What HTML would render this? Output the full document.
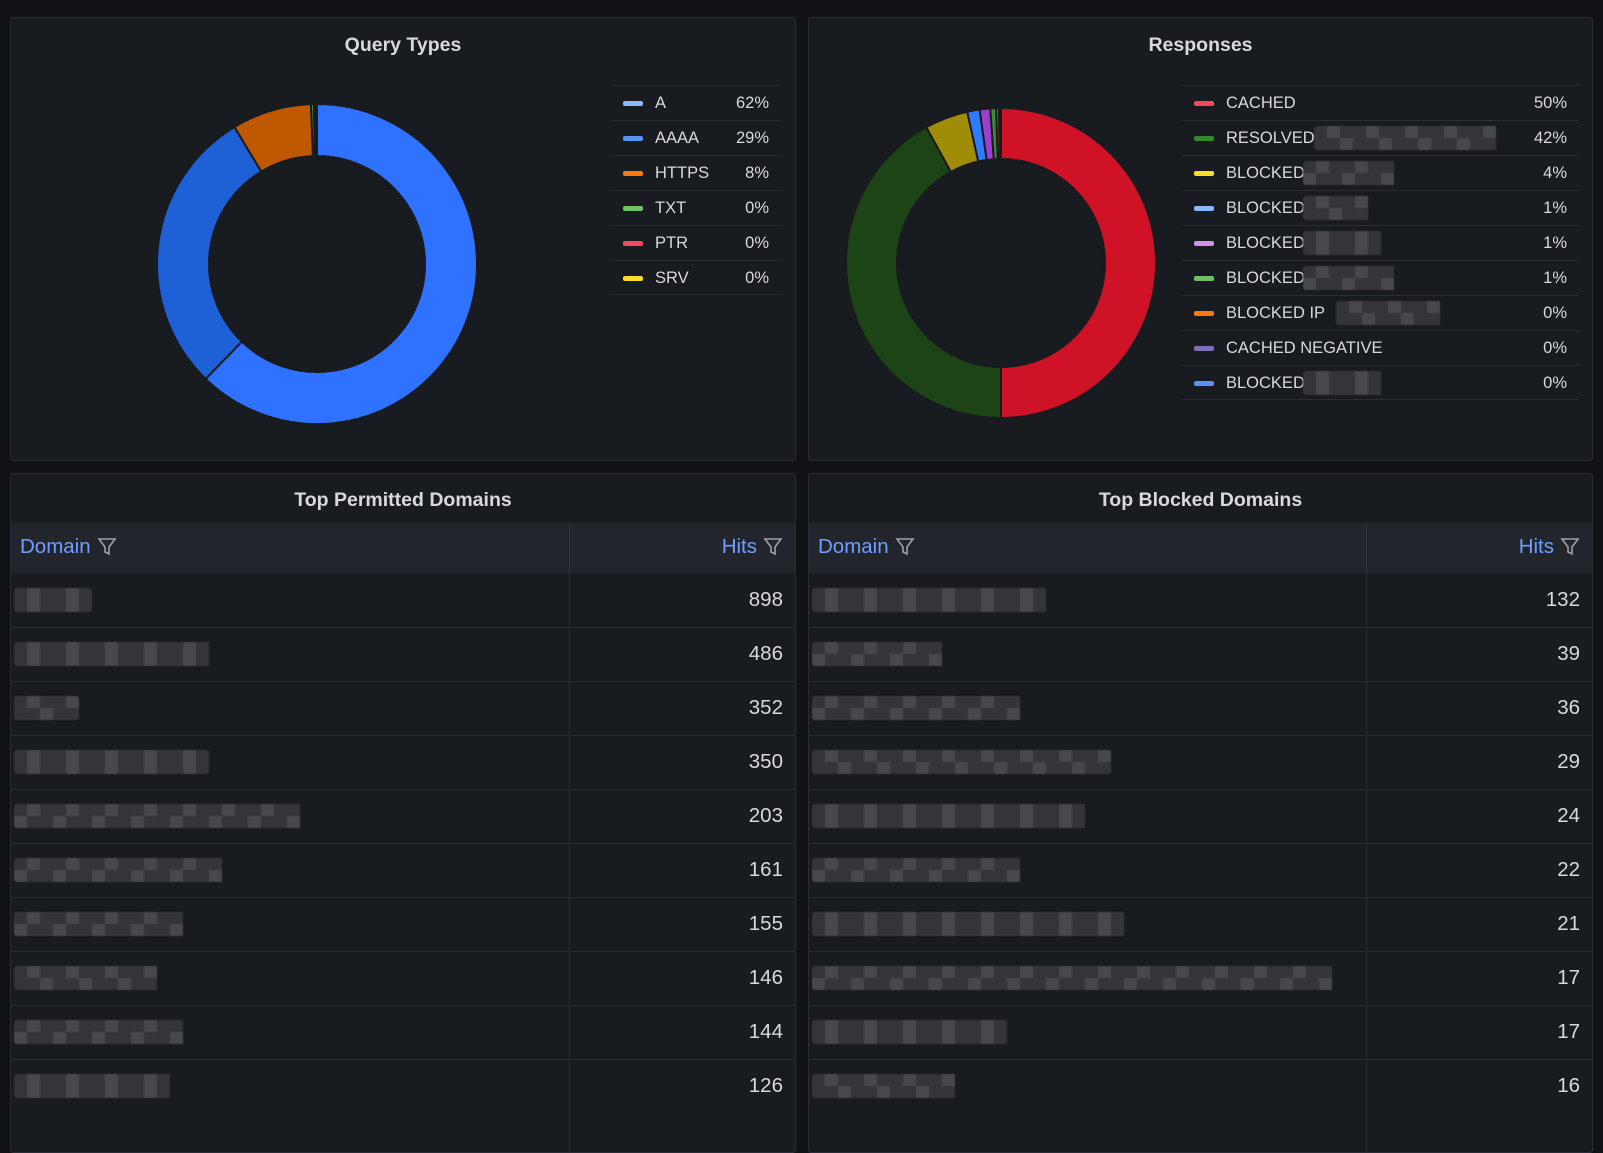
<!DOCTYPE html>
<html><head><meta charset="utf-8">
<style>
body{margin:0;width:1603px;height:1129px;background:#111217;font-family:"Liberation Sans",sans-serif;overflow:hidden;position:relative;color:#ccccdc}
.panel{position:absolute;background:#181b1f;border:1px solid #2a2d33;border-radius:3px;box-sizing:border-box;overflow:hidden}
.title{position:absolute;left:0;right:0;text-align:center;font-size:19.5px;font-weight:bold;color:#d8d9e0;top:16px}
.leg{position:absolute;font-size:16.5px;color:#d8d9e0}
.lrow{position:relative;height:35px;border-top:1px solid #2a2d33;box-sizing:border-box}
.lrow .sw{position:absolute;left:12px;top:15px;width:20px;height:5px;border-radius:2px}
.lrow .nm{position:absolute;left:44px;top:8px;white-space:nowrap}
.lrow .pc{position:absolute;right:12px;top:8px}
.thead{position:absolute;left:0;right:0;top:49px;height:50px;background:#22252b}
.th{position:absolute;top:12px;font-size:20.5px;color:#6e9fff}
.tcell{position:absolute;font-size:20.5px;color:#d8d9e0}
.blur{position:absolute;height:24px;display:flex;flex-wrap:wrap;overflow:hidden;border-radius:3px;filter:blur(0.6px)}
</style></head><body>
<div class="panel" style="left:10px;top:17px;width:786px;height:444px">
<div class="title">Query Types</div>
<svg id="qsvg" width="786" height="444" style="position:absolute;left:0;top:0"></svg>
<div class="leg" id="qleg" style="left:600px;top:67px;width:170px"></div>
</div>
<div class="panel" style="left:808px;top:17px;width:785px;height:444px">
<div class="title">Responses</div>
<svg id="rsvg" width="785" height="444" style="position:absolute;left:0;top:0"></svg>
<div class="leg" id="rleg" style="left:373px;top:67px;width:397px"></div>
</div>
<div class="panel" id="ptab" style="left:10px;top:473px;width:786px;height:680px">
<div class="title" style="top:15px">Top Permitted Domains</div>
</div>
<div class="panel" id="btab" style="left:808px;top:473px;width:785px;height:680px">
<div class="title" style="top:15px">Top Blocked Domains</div>
</div>
<script>
const qLabels=["A","AAAA","HTTPS","TXT","PTR","SRV"];
const qValues=[62,29,8,0.3,0.2,0.1];
const qPct=["62%","29%","8%","0%","0%","0%"];
const qLegColors=["#8ab8ff","#5794f2","#ff780a","#73bf69","#f2495c","#fade2a"];
const qSliceColors=["#2f72ff","#1e60d6","#c05800","#3f8a38","#c0283a","#c8a800"];
const rLabels=["CACHED","RESOLVED","BLOCKED","BLOCKED","BLOCKED","BLOCKED","BLOCKED IP","CACHED NEGATIVE","BLOCKED"];
const rValues=[50,42,4.5,1.3,1.1,0.6,0.3,0.1,0.1];
const rPct=["50%","42%","4%","1%","1%","1%","0%","0%","0%"];
const rLegColors=["#f2495c","#37872d","#fade2a","#8ab8ff","#ca95e5","#73bf69","#ff780a","#806eb7","#5794f2"];
const rSliceColors=["#d01226","#1c4416","#a08c06","#2f7bff","#9a3fd0","#3f8a38","#d06000","#6a5aa0","#3a7ae0"];
const rBlurW=[0,190,100,70,80,100,110,0,80];
const permHits=[898,486,352,350,203,161,155,146,144,126];
const permBlurW=[78,205,65,195,295,218,180,155,180,168];
const blockHits=[132,39,36,29,24,22,21,17,17,16];
const blockBlurW=[235,135,220,300,275,210,320,530,200,145];
const NS="http://www.w3.org/2000/svg";
function arc(cx,cy,ro,ri,a0,a1){
  const p=(r,a)=>[cx+r*Math.sin(a),cy-r*Math.cos(a)];
  const l=a1-a0>Math.PI?1:0;
  const [x0,y0]=p(ro,a0),[x1,y1]=p(ro,a1),[x2,y2]=p(ri,a1),[x3,y3]=p(ri,a0);
  return `M${x0},${y0}A${ro},${ro} 0 ${l} 1 ${x1},${y1}L${x2},${y2}A${ri},${ri} 0 ${l} 0 ${x3},${y3}Z`;
}
function donut(svg,vals,cols,cx,cy,ro,ri){
  const tot=vals.reduce((a,b)=>a+b,0);let a=0;
  vals.forEach((v,i)=>{
    const s=a,e=a+v/tot*2*Math.PI;a=e;
    const pth=document.createElementNS(NS,"path");
    pth.setAttribute("d",arc(cx,cy,ro,ri,s,e));
    pth.setAttribute("fill",cols[i]);
    pth.setAttribute("stroke","#181b1f");pth.setAttribute("stroke-width","2");
    
    
    svg.appendChild(pth);
  });
}
donut(document.getElementById("qsvg"),qValues,qSliceColors,306,246,160,108);
donut(document.getElementById("rsvg"),rValues,rSliceColors,192,245,155,104);
function shades(n){const c=["#33353b","#3e4046","#46484e","#2b2d32","#4e5056","#393b41"];let h="";for(let i=0;i<n;i++){h+=`<span style="width:13px;height:12px;background:${c[(i*7+i*i)%6]}"></span>`}return h}
function legend(el,labels,pct,cols,blur){
  labels.forEach((l,i)=>{
    const d=document.createElement("div");d.className="lrow";
    if(i==labels.length-1)d.style.borderBottom="1px solid #2a2d33";
    
    
    let b=blur&&blur[i]?`<div class="blur" style="left:${44+l.length*11}px;top:5px;width:${blur[i]}px">${shades(Math.ceil(blur[i]/13)*2)}</div>`:"";
    d.innerHTML=`<span class="sw" style="background:${cols[i]}"></span><span class="nm">${l}</span>${b}<span class="pc">${pct[i]}</span>`;
    el.appendChild(d);
  });
}
legend(document.getElementById("qleg"),qLabels,qPct,qLegColors,null);
legend(document.getElementById("rleg"),rLabels,rPct,rLegColors,rBlurW);
const funnel=`<svg width="20" height="20" viewBox="0 0 20 20" style="vertical-align:-3px;margin-left:6px"><path d="M2 3h16l-6 8v7l-4-2v-5z" fill="none" stroke="#9fa1a8" stroke-width="1.6"/></svg>`;
function table(el,hits,blur,W,div){
  const h=document.createElement("div");h.className="thead";
  
  
  h.innerHTML=`<span class="th" style="left:9px">Domain${funnel}</span><span class="th" style="right:12px">Hits${funnel}</span><div style="position:absolute;left:${div}px;top:0;bottom:0;width:1px;background:#2e3138"></div>`;
  el.appendChild(h);
  const vl=document.createElement("div");vl.style.cssText=`position:absolute;left:${div}px;top:99px;height:580px;width:1px;background:#2a2d33`;el.appendChild(vl);
  hits.forEach((v,i)=>{
    const r=document.createElement("div");
    r.style.cssText=`position:absolute;left:0;right:0;top:${99+i*54}px;height:54px;`+(i<hits.length-1?"border-bottom:1px solid #2a2d33":"");
    
    
    r.innerHTML=`<div class="blur" style="left:3px;top:15px;width:${blur[i]}px">${shades(Math.ceil(blur[i]/13)*2)}</div><span class="tcell" style="right:12px;top:15px">${v}</span>`;
    el.appendChild(r);
  });
}
table(document.getElementById("ptab"),permHits,permBlurW,786,558);
table(document.getElementById("btab"),blockHits,blockBlurW,785,557);
</script>
</body></html>
